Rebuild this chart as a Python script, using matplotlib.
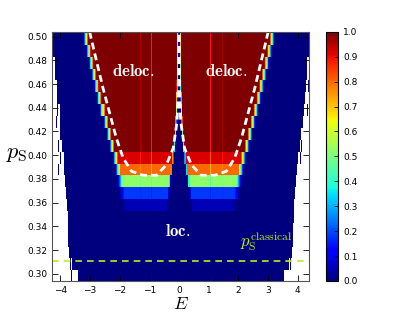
import numpy as np
import matplotlib
matplotlib.use("Agg")
import matplotlib.pyplot as plt

plt.rcParams['mathtext.fontset'] = 'cm'

# rows of the map (p_S values)
ps_rows = [0.30, 0.31, 0.32, 0.33, 0.34, 0.35, 0.36, 0.37, 0.38, 0.39, 0.40,
           0.41, 0.42, 0.43, 0.44, 0.45, 0.46, 0.47, 0.48, 0.49, 0.50]
# spectrum edges per row (outside -> no states, white)
spec_left = [-3.41, -3.62, -3.72, -3.75, -3.75, -3.75, -3.78, -3.82, -3.85, -3.89, -3.89,
             -3.95, -4.02, -4.02, -4.02, -4.12, -4.12, -4.19, -4.19, -4.25, -4.29]
spec_right = [3.51, 3.68, 3.78, 3.80, 3.82, 3.83, 3.85, 3.88, 3.92, 3.96, 3.99,
              4.04, 4.09, 4.14, 4.19, 4.22, 4.26, 4.28, 4.29, 4.34, 4.39]
# isolated states inside the white strips
stray_ps = [0.30, 0.31, 0.39, 0.40, 0.41, 0.43, 0.44, 0.31, 0.40, 0.41, 0.44, 0.46]
stray_E = [-3.62, -3.67, -4.05, -4.00, -4.05, -4.12, -4.10, 3.72, 4.05, 4.10, 4.30, 4.33]
# delocalised lobe (left one, mirrored for E > 0): outer / inner edge, peak value
lobe_outer = [-1.2, -1.2, -1.2, -1.2, -1.2, -1.2, -1.85, -1.94, -2.00, -2.08, -2.16,
              -2.28, -2.38, -2.48, -2.58, -2.68, -2.77, -2.86, -2.95, -3.04, -3.13]
lobe_inner = [-0.6, -0.6, -0.6, -0.6, -0.6, -0.6, -0.40, -0.36, -0.31, -0.26, -0.20,
              -0.16, -0.12, -0.10, -0.08, -0.07, -0.06, -0.05, -0.05, -0.04, -0.04]
lobe_peak = [0.0, 0.0, 0.0, 0.0, 0.0, 0.0, 0.05, 0.18, 0.52, 0.80, 0.92,
             1.0, 1.0, 1.0, 1.0, 1.0, 1.0, 1.0, 1.0, 1.0, 1.0]
# resonance lines inside the lobes
res_E = [-1.32, -0.92, 1.05, 1.44]
res_factor = [0.96, 0.88, 0.89, 0.97]

# classical boundary (left branch, mirrored)
cl_E = [-3.01, -2.56, -2.11, -1.88, -1.60, -1.21, -0.75, -0.42, -0.19, -0.06, -0.02, -0.01]
cl_ps = [0.504, 0.4568, 0.4146, 0.3977, 0.3865, 0.3831, 0.3831, 0.392, 0.406, 0.4287, 0.457, 0.504]
ps_classical = 0.311

dE = 0.034
E = np.arange(-4.30, 4.42, dE)
Z = np.zeros((len(ps_rows), len(E)))
for i in range(len(ps_rows)):
    for sgn in (-1, 1):
        e = sgn * E
        up = np.clip((e - lobe_outer[i]) / 0.17 + 0.5, 0, 1)
        down = np.clip((lobe_inner[i] - e) / 0.06 + 0.5, 0, 1)
        Z[i] += lobe_peak[i] * up * down
    for er, f in zip(res_E, res_factor):
        Z[i, np.argmin(np.abs(E - er))] *= f
    Z[i, (E < spec_left[i]) | (E > spec_right[i])] = np.nan
for p, e in zip(stray_ps, stray_E):
    Z[ps_rows.index(p), np.argmin(np.abs(E - e))] = 0.0

fig = plt.figure(figsize=(4.15, 3.12), dpi=100)
ax = fig.add_axes([0.125, 0.0994, 0.62, 0.7986])
cmap = plt.get_cmap('jet').copy()
cmap.set_bad('white')
im = ax.imshow(np.ma.masked_invalid(Z), cmap=cmap, vmin=0, vmax=1, origin='lower',
               aspect='auto', interpolation='nearest',
               extent=[E[0] - dE / 2, E[-1] + dE / 2, 0.293, 0.503])

ax.plot(cl_E, cl_ps, color='white', lw=2, ls=(0, (2.5, 1.5)))
ax.plot([-x for x in cl_E], cl_ps, color='white', lw=2, ls=(0, (2.5, 1.5)))
ax.axhline(ps_classical, color='#b8f020', lw=1.2, ls=(0, (4, 3)))

ax.text(-1.55, 0.471, r'$\mathbf{deloc.}$', color='white', fontsize=12,
        ha='center', va='center')
ax.text(1.6, 0.471, r'$\mathbf{deloc.}$', color='white', fontsize=12,
        ha='center', va='center')
ax.text(-0.05, 0.336, r'$\mathbf{loc.}$', color='white', fontsize=12,
        ha='center', va='center')
ax.text(2.05, 0.318, r'$p_{\rm S}^{\rm classical}$', color='#b8f020', fontsize=12,
        ha='left', va='bottom')

ax.set_xlim(-4.28, 4.39)
ax.set_ylim(0.294, 0.504)
ax.set_xticks(range(-4, 5))
ax.set_yticks(np.arange(0.30, 0.501, 0.02))
ax.tick_params(direction='in', top=True, right=True, labelsize=6.5, length=4, width=0.6)
for s in ax.spines.values():
    s.set_linewidth(0.8)
    s.set_color('#555555')
ax.set_xlabel(r'$E$', fontsize=13)
ax.xaxis.set_label_coords(0.5, -0.058)
ax.xaxis.label.set_va('top')
ax.set_ylabel(r'$p_{\rm S}$', fontsize=16, rotation=0)
ax.yaxis.set_label_coords(-0.135, 0.51)
ax.yaxis.label.set_va('center')
ax.yaxis.label.set_ha('center')

cax = fig.add_axes([0.785, 0.0994, 0.0304, 0.7986])
cb = fig.colorbar(im, cax=cax, ticks=np.arange(0, 1.01, 0.1))
cb.ax.set_yticklabels(['%.1f' % t for t in np.arange(0, 1.01, 0.1)])
cb.ax.tick_params(direction='in', labelsize=6.5, length=3, width=0.6)
cb.outline.set_linewidth(0.8)

fig.savefig('out.png', dpi=100)
